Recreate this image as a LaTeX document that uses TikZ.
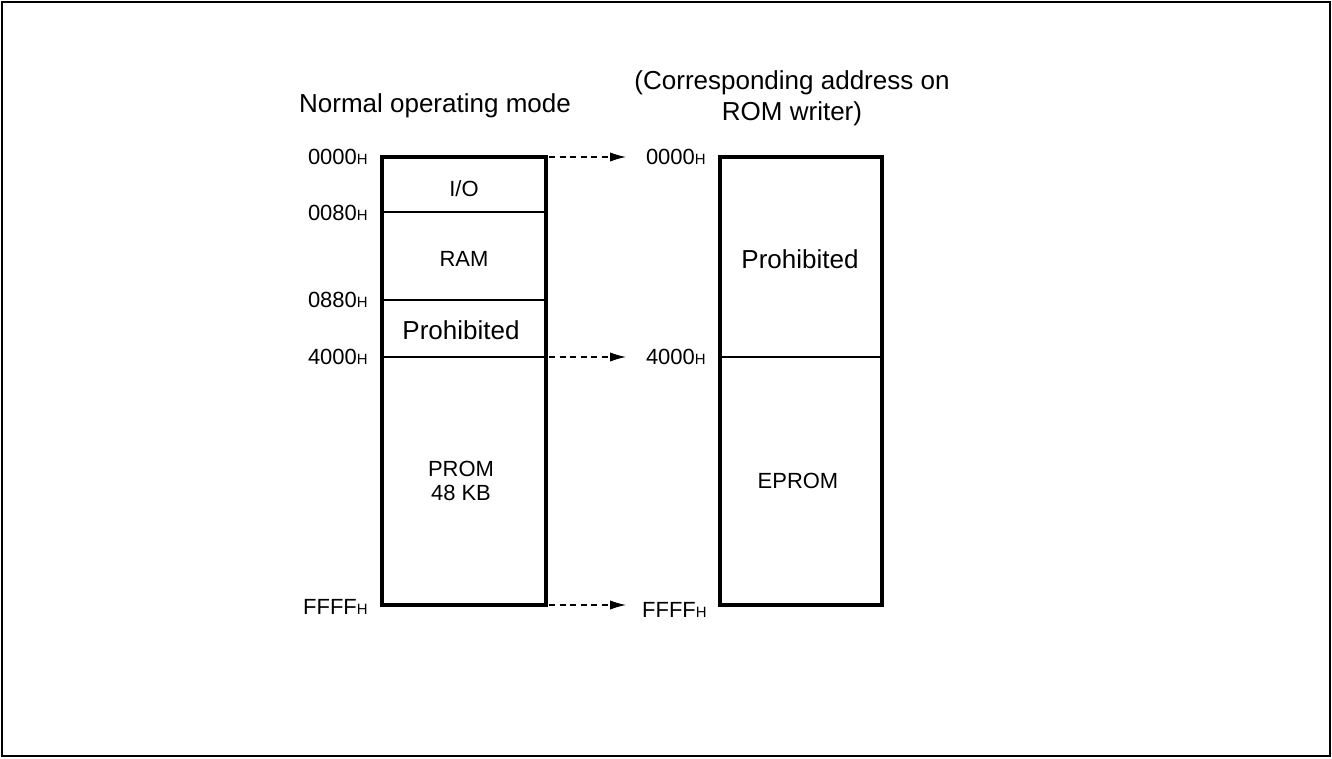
\documentclass[tikz,border=0pt]{standalone}
\usepackage{fontspec}
\setmainfont{Liberation Sans}
\usetikzlibrary{arrows.meta}

\newcommand{\addr}[1]{#1{\fontsize{8.5}{9}\selectfont H}}

\begin{document}
\begin{tikzpicture}[x=0.02cm, y=-0.02cm,
		small/.style = {font=\fontsize{12.5}{14}\selectfont, inner sep=0pt},
		big/.style = {font=\fontsize{14.8}{17.6}\selectfont, inner sep=0pt},
		box/.style = {line width=1.8pt},
		divider/.style = {line width=0.8pt},
		maparrow/.style = {-{Latex[length=9pt, width=5.2pt]},
				line width=0.6pt, dash pattern=on 3.4pt off 2.6pt},
		>=latex
	]
	\useasboundingbox (0,0) rectangle (1332,758);
	\draw[line width=1.3pt] (2,2) rectangle (1330,756);

	% normal operating mode
	\coordinate (lt) at (382,157);
	\coordinate (lb) at (546,605);
	\draw[divider] (382,212) -- (546,212);
	\draw[divider] (382,300) -- (546,300);
	\draw[divider] (382,357) -- (546,357);
	\draw[box] (lt) rectangle (lb);

	\node[big] (title) at (435,106) {Normal operating mode};
	\node[small] (io) at (464,189) {I/O};
	\node[small] (ram) at (464,259) {RAM};
	\node[big] (prohib) at (461,330) {Prohibited};
	\node[small, align=center] (prom) at (461,481) {PROM\\48 KB};

	\node[small, anchor=east] (l0000) at (368,157) {\addr{0000}};
	\node[small, anchor=east] (l0080) at (368,213) {\addr{0080}};
	\node[small, anchor=east] (l0880) at (368,300) {\addr{0880}};
	\node[small, anchor=east] (l4000) at (368,357) {\addr{4000}};
	\node[small, anchor=east] (lffff) at (368,607) {\addr{FFFF}};

	% ROM writer
	\coordinate (rt) at (720,157);
	\coordinate (rb) at (882,605);
	\draw[divider] (720,357) -- (882,357);
	\draw[box] (rt) rectangle (rb);

	\node[big, align=center] (rtitle) at (792,98)
	{(Corresponding address on\\ROM writer)};
	\node[big] (rprohib) at (800,259) {Prohibited};
	\node[small] (eprom) at (798,481) {EPROM};

	\node[small, anchor=east] (r0000) at (706,157) {\addr{0000}};
	\node[small, anchor=east] (r4000) at (706,357) {\addr{4000}};
	\node[small, anchor=east] (rffff) at (707,610) {\addr{FFFF}};

	\draw[maparrow] (549,157) -- (r0000.west -| 626,0);
	\draw[maparrow] (549,357) -- (r4000.west -| 626,0);
	\draw[maparrow] (549,605) -- (626,605);
\end{tikzpicture}
\end{document}
